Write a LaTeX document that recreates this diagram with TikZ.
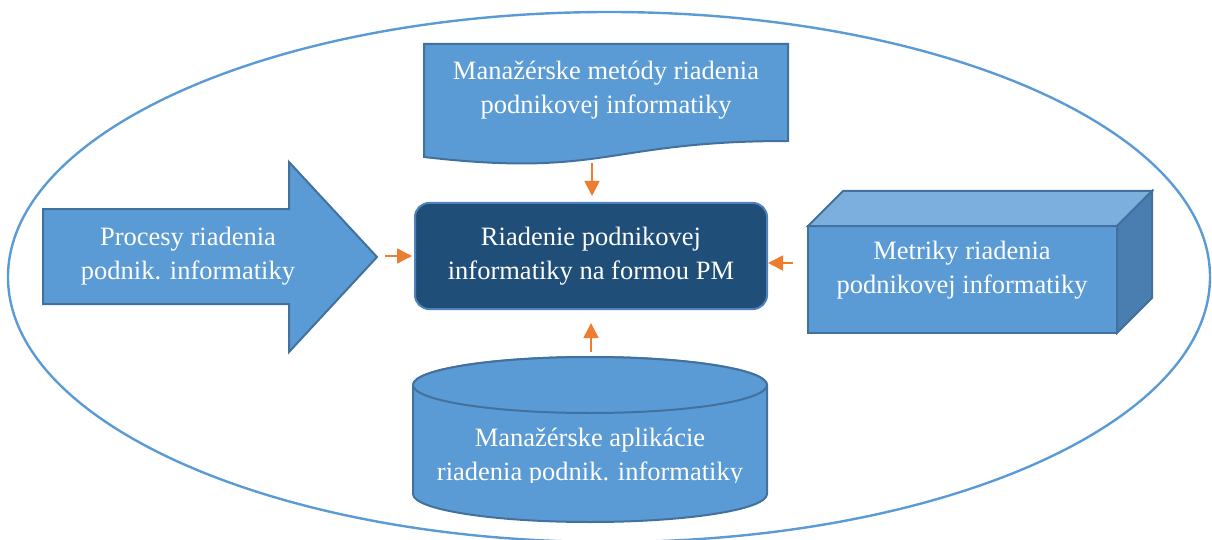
\documentclass[tikz,border=0pt]{standalone}
\usepackage{fontspec}
\setmainfont{Liberation Serif}
\usetikzlibrary{arrows.meta}
\definecolor{mblue}{HTML}{5B9BD5}
\definecolor{bord}{HTML}{41719C}
\definecolor{cbord}{HTML}{4F81BD}
\definecolor{dblue}{HTML}{1F4E79}
\definecolor{ltop}{HTML}{7DAFDE}
\definecolor{dside}{HTML}{4A7DB0}
\definecolor{orng}{HTML}{ED7D31}
\begin{document}
\begin{tikzpicture}[x=1pt,y=-1pt,
  shapebox/.style={fill=mblue,draw=bord,line width=2pt,line join=miter},
  lbl/.style={text=white,font=\fontsize{26.5}{33.5}\selectfont,align=center,inner sep=0pt},
  oarr/.style={draw=orng,line width=1.6pt,-{Triangle[length=15pt,width=15pt]}}]
\useasboundingbox (0,0) rectangle (1212,540);
% outer ellipse
\draw[mblue,line width=2.4pt] (609,277) ellipse [x radius=601, y radius=265];
% top document shape
\draw[shapebox] (424,44) -- (788,44) -- (788,141) .. controls (606,141) and (606,178) .. (424,157) -- cycle;
\node[lbl] (meth) at (606,90) {Manažérske metódy riadenia\\podnikovej informatiky};
% left block arrow
\draw[shapebox] (43,209) -- (289,209) -- (289,162) -- (377,257) -- (289,352) -- (289,304) -- (43,304) -- cycle;
\node[lbl] (proc) at (188,256) {Procesy riadenia\\podnik. informatiky};
% central node
\node[lbl,fill=dblue,draw=cbord,line width=2pt,rounded corners=14pt,minimum width=352pt,minimum height=106pt] (c) at (591,256) {Riadenie podnikovej\\informatiky na formou PM};
% cube
\draw[shapebox] (808,226) rectangle (1117,333);
\draw[shapebox,fill=ltop] (808,226) -- (843,191) -- (1152,191) -- (1117,226) -- cycle;
\draw[shapebox,fill=dside] (1117,226) -- (1152,191) -- (1152,298) -- (1117,333) -- cycle;
\node[lbl] (metr) at (962,270) {Metriky riadenia\\podnikovej informatiky};
% cylinder
\draw[shapebox] (413,385) -- (413,494) arc[start angle=180,end angle=0,x radius=177,y radius=28] -- (767,385) arc[start angle=360,end angle=180,x radius=177,y radius=28] -- cycle;
\draw[shapebox] (590,385) ellipse [x radius=177, y radius=28];
\begin{scope}
\clip (413,414) rectangle (767,482);
\node[lbl] (app) at (590,457) {Manažérske aplikácie\\riadenia podnik. informatiky};
\end{scope}
% orange arrows
\coordinate (t0) at (592,163);
\coordinate (l0) at (385,256);
\coordinate (r0) at (793,263);
\coordinate (b0) at (591,352);
\draw[oarr,shorten >=6pt] (t0) -- (t0 |- c.north);
\draw[oarr,shorten >=2pt] (l0) -- (c.west);
\draw[oarr] (r0) -- (r0 -| c.east);
\draw[oarr,shorten >=13pt] (b0) -- (b0 |- c.south);
\end{tikzpicture}
\end{document}
